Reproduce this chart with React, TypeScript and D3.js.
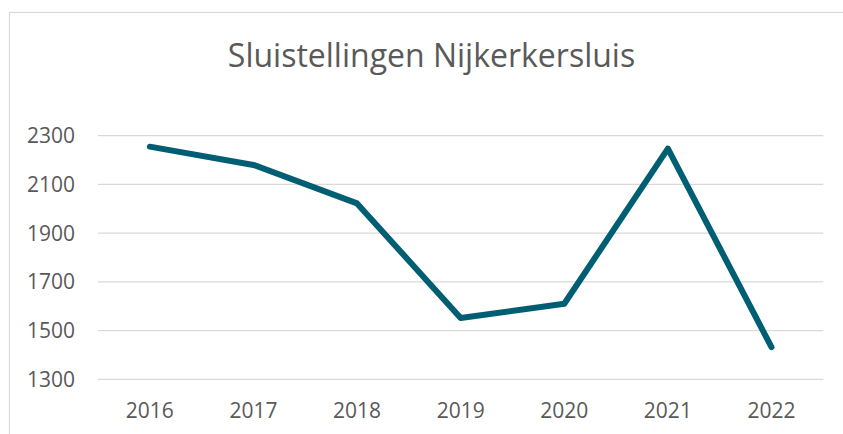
import React, { useEffect, useRef } from "react";
import * as d3 from "d3";

const years = ["2016", "2017", "2018", "2019", "2020", "2021", "2022"];
const values = [2255, 2180, 2022, 1552, 1610, 2247, 1432];
const yTicks = [1300, 1500, 1700, 1900, 2100, 2300];
const title = "Sluistellingen Nijkerkersluis";

const W = 843;
const H = 434;

export default function App() {
  const svgRef = useRef<SVGSVGElement>(null);

  useEffect(() => {
    const svg = d3.select(svgRef.current);
    svg.selectAll("*").remove();

    const font = "'Open Sans', sans-serif";
    const textColor = "#595959";

    // chart frame (clipped on the right/bottom like the screenshot)
    svg
      .append("rect")
      .attr("x", 9.5)
      .attr("y", 12.5)
      .attr("width", W + 20)
      .attr("height", H + 20)
      .attr("fill", "#fff")
      .attr("stroke", "#d9d9d9")
      .attr("stroke-width", 1.2);

    const left = 98;
    const right = 823.3;
    const x = d3.scaleBand().domain(years).range([left, right]);
    const y = d3.scaleLinear().domain([1300, 2300]).range([379.3, 135.7]);

    // gridlines
    svg
      .append("g")
      .selectAll("line")
      .data(yTicks)
      .join("line")
      .attr("x1", left)
      .attr("x2", right)
      .attr("y1", (d) => y(d))
      .attr("y2", (d) => y(d))
      .attr("stroke", "#d9d9d9")
      .attr("stroke-width", 1.3);

    // y labels
    svg
      .append("g")
      .selectAll("text")
      .data(yTicks)
      .join("text")
      .attr("x", 75)
      .attr("y", (d) => y(d))
      .attr("dy", "0.36em")
      .attr("text-anchor", "end")
      .attr("font-family", font)
      .attr("font-size", 21)
      .attr("fill", textColor)
      .text((d) => d);

    // x labels
    svg
      .append("g")
      .selectAll("text")
      .data(years)
      .join("text")
      .attr("x", (d) => x(d)! + x.bandwidth() / 2)
      .attr("y", 418)
      .attr("text-anchor", "middle")
      .attr("font-family", font)
      .attr("font-size", 21)
      .attr("fill", textColor)
      .text((d) => d);

    // line
    const line = d3
      .line<number>()
      .x((_, i) => x(years[i])! + x.bandwidth() / 2)
      .y((d) => y(d));

    svg
      .append("path")
      .datum(values)
      .attr("d", line)
      .attr("fill", "none")
      .attr("stroke", "#005e73")
      .attr("stroke-width", 6)
      .attr("stroke-linejoin", "round")
      .attr("stroke-linecap", "round");

    // title
    svg
      .append("text")
      .attr("x", 431.5)
      .attr("y", 66.7)
      .attr("text-anchor", "middle")
      .attr("font-family", font)
      .attr("font-size", 32)
      .attr("fill", textColor)
      .text(title);
  }, []);

  return (
    <svg
      ref={svgRef}
      width={W}
      height={H}
      style={{ position: "absolute", left: 0, top: 0, display: "block" }}
    />
  );
}
